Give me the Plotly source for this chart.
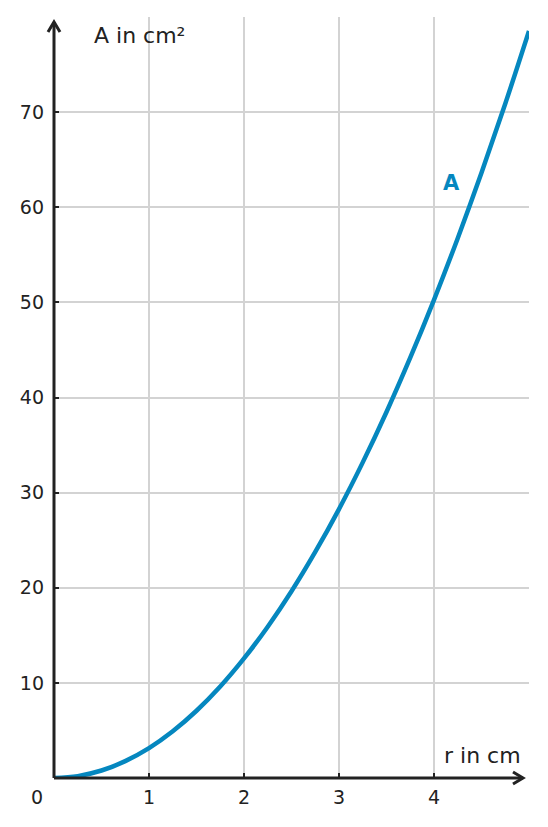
import plotly.graph_objects as go

# Data (area of a circle A over radius r)
r_values = [0, 0.25, 0.5, 0.75, 1, 1.25, 1.5, 1.75, 2, 2.25, 2.5,
            2.75, 3, 3.25, 3.5, 3.75, 4, 4.25, 4.5, 4.75, 5]
a_values = [0, 0.20, 0.79, 1.77, 3.14, 4.91, 7.07, 9.62, 12.57, 15.90, 19.63,
            23.76, 28.27, 33.18, 38.48, 44.18, 50.27, 56.75, 63.62, 70.88, 78.54]
x_ticks = [1, 2, 3, 4]
y_ticks = [10, 20, 30, 40, 50, 60, 70]
x_title = "r in cm"
y_title = "A in cm²"
series_name = "A"

BLUE = "#0587BF"
DARK = "#222222"
GRID = "#D3D3D3"
FONT = "DejaVu Sans"

# page has an 8px body margin; size the figure so the plot area lands where the reference has it
W, H = 540, 819
ML, MR, MT, MB = 46, 19, 9, 49
PW = W - ML - MR
PH = H - MT - MB

fig = go.Figure()
fig.add_trace(go.Scatter(
    x=r_values, y=a_values, mode="lines", name=series_name,
    line=dict(color=BLUE, width=4.5, shape="spline"),
    showlegend=False, hoverinfo="skip",
))

fig.update_layout(
    width=W, height=H,
    margin=dict(l=ML, r=MR, t=MT, b=MB),
    paper_bgcolor="white", plot_bgcolor="white",
    font=dict(family=FONT, color=DARK, size=19),
    xaxis=dict(range=[0, 5], tickvals=x_ticks, showgrid=True, gridcolor=GRID,
               gridwidth=1.5, zeroline=False, showline=False,
               ticks="inside", ticklen=5, tickwidth=2, tickcolor=DARK,
               ticklabelstandoff=6,
               tickfont=dict(size=19, family=FONT, color=DARK)),
    yaxis=dict(range=[0, 80], tickvals=y_ticks, showgrid=True, gridcolor=GRID,
               gridwidth=1.5, zeroline=False, showline=False,
               ticks="inside", ticklen=5, tickwidth=2, tickcolor=DARK,
               ticklabelstandoff=9,
               tickfont=dict(size=19, family=FONT, color=DARK)),
)

# axis lines with open chevron arrowheads (paper coords so they are not clipped)
line_style = dict(color=DARK, width=3)
xtip = 469 / PW      # x-axis arrow tip
ytip = 756 / PH      # y-axis arrow tip
ax_w, ax_l = 6, 10   # chevron half width / length in px
fig.add_shape(type="line", xref="paper", yref="paper", x0=0, y0=0, x1=xtip, y1=0, line=line_style)
fig.add_shape(type="line", xref="paper", yref="paper", x0=0, y0=0, x1=0, y1=ytip, line=line_style)
fig.add_shape(type="path", xref="paper", yref="paper",
              path=f"M {xtip - ax_l / PW},{ax_w / PH} L {xtip},0 L {xtip - ax_l / PW},{-ax_w / PH}",
              line=line_style)
fig.add_shape(type="path", xref="paper", yref="paper",
              path=f"M {-ax_w / PW},{ytip - ax_l / PH} L 0,{ytip} L {ax_w / PW},{ytip - ax_l / PH}",
              line=line_style)

fig.add_annotation(x=0, y=0, xref="x", yref="y", text="0", showarrow=False,
                   xshift=-17, yshift=-19, font=dict(size=19, family=FONT, color=DARK))
fig.add_annotation(x=xtip, y=0, xref="paper", yref="paper", text=x_title, showarrow=False,
                   xanchor="right", yanchor="bottom", yshift=8,
                   font=dict(size=22, family=FONT, color=DARK))
fig.add_annotation(x=0, y=ytip, xref="paper", yref="paper", text=y_title, showarrow=False,
                   xanchor="left", yanchor="middle", xshift=38, yshift=-13,
                   font=dict(size=22, family=FONT, color=DARK))
fig.add_annotation(x=4.18, y=62.6, xref="x", yref="y", text="<b>A</b>", showarrow=False,
                   font=dict(size=21, family=FONT, color=BLUE))

fig.write_html("out.html")
